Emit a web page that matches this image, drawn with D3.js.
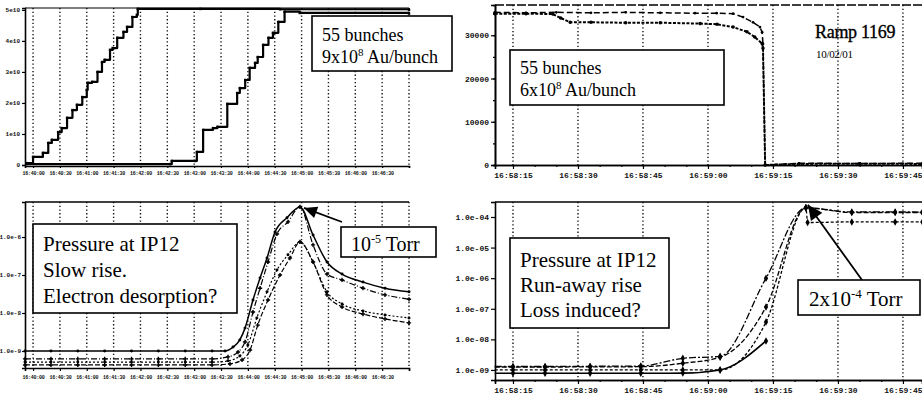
<!DOCTYPE html>
<html><head><meta charset="utf-8">
<script src="https://cdn.jsdelivr.net/npm/d3@7"></script>
<style>
html,body{margin:0;padding:0;background:#fff;}
svg{display:block;}
</style></head><body>
<svg id="fig" width="922" height="401"></svg>
<script>
// ---------------- data ----------------
// left column: time axis in seconds after the first grid line
const gridSecondsLeft = [0,30,60,90,120,150,180,210,240,270,300,330,360,390,420];
const timeLabelsLeft = ["16:40:00","16:40:30","16:41:00","16:41:30","16:42:00","16:42:30","16:43:00",
                        "16:43:30","16:44:00","16:44:30","16:45:00","16:45:30","16:46:00","16:46:30"];
const intensityTicksLeft = [0,1,2,3,4,5];
const intensityLabelsLeft = ["0","1e10","2e10","3e10","4e10","5e10"];

// injection staircase, ring 1 (ions, units of 1e10)
const fillTimeRing1 = [-7,0,11,17,21,28,32,38,44,49,55,60,61,66,72,77,80,86,89,94,101,105,111,116,117,187,276,420];
const fillRing1 = [0.06,0.26,0.39,0.71,0.81,1.06,1.19,1.52,1.77,1.94,2.19,2.42,2.65,2.68,3.0,3.32,3.39,3.71,3.77,4.1,4.29,4.45,4.77,4.84,5.03,5.03,5.02,5.0];
// injection staircase, ring 2
const fillTimeRing2 = [-7,153,155,181,183,190,201,206,217,228,231,237,242,248,251,257,263,268,274,281,298,420];
const fillRing2 = [0.03,0.03,0.13,0.13,0.42,1.13,1.19,1.23,1.97,2.32,2.48,2.74,3.13,3.29,3.48,3.87,4.1,4.26,4.61,4.94,4.9,4.88];

// pressure at IP12 during the fill (Torr)
const pressureTicksLeft = [1e-9,1e-8,1e-7,1e-6];
const pressureLabelsLeft = ["1.0e-9","1.0e-8","1.0e-7","1.0e-6"];
const slowTime1 = [-9,20,50,80,110,140,170,200,214.5,223.4,231,236.8,245.7,253.6,261.4,270.3,283.7,298.2,312.8,328.4,345.2,368.6,393.2,420];
const slowP1 = [1.0e-9,1.0e-9,1.0e-9,1.0e-9,1.0e-9,1.0e-9,1.0e-9,1.0e-9,1.0e-9,1.27e-9,1.95e-9,4.0e-9,2.2e-8,8.3e-8,2.8e-7,1.35e-6,3.2e-6,6.2e-6,1.13e-6,2.2e-7,1.06e-7,6.5e-8,4.5e-8,3.6e-8];
const slowTime2 = [-9,20,50,80,110,140,170,200,217.8,229,236.8,245.7,253.6,262.5,272.5,284.8,298.2,312.8,328.4,345.2,368.6,393.2,420];
const slowP2 = [6.2e-10,6.2e-10,6.2e-10,6.2e-10,6.2e-10,6.2e-10,6.2e-10,6.2e-10,7.0e-10,9.4e-10,1.73e-9,1.06e-8,4.5e-8,2.2e-7,1.2e-6,2.5e-6,6.2e-6,6.2e-7,1.06e-7,7.4e-8,4.5e-8,3.0e-8,2.3e-8];
const slowTime3 = [-9,20,50,80,110,140,170,200,217.8,231,240,250,261.4,272.5,284.8,298.2,312.8,328.4,345.2,368.6,393.2,420];
const slowP3 = [5.1e-10,5.1e-10,5.1e-10,5.1e-10,5.1e-10,5.1e-10,5.1e-10,5.1e-10,5.5e-10,7.4e-10,1.44e-9,7.4e-9,3.6e-8,1.35e-7,3.4e-7,7.4e-7,2.2e-7,3.6e-8,1.73e-8,1.13e-8,8.9e-9,7.4e-9];
const slowTime4 = [-9,20,50,80,110,140,170,200,220,233.5,242.4,251,262.5,275.9,287,298.2,312.8,328.4,345.2,368.6,393.2,420];
const slowP4 = [4.3e-10,4.3e-10,4.3e-10,4.3e-10,4.3e-10,4.3e-10,4.3e-10,4.3e-10,4.6e-10,5.8e-10,1.06e-9,4.8e-9,2.2e-8,1.0e-7,2.8e-7,7.4e-7,2.2e-7,3.0e-8,1.44e-8,9.4e-9,7.0e-9,5.5e-9];

// right column: ramp 1169, seconds after 16:58:15
const rampTickLabels = ["16:58:15","16:58:30","16:58:45","16:59:00","16:59:15","16:59:30","16:59:45"];
const intensityTicksRight = [0,10000,20000,30000];
const intensityLabelsRight = ["0","10000","20000","30000"];
const beamTimeA = [-4.2,3,10,18,26,34,42,47,50.8,53.1,55.4,57,57.5,57.7,58.2,66,80,94.5];
const beamA = [35300,35200,35300,35200,35300,35200,35100,35100,35000,34200,33000,31900,30700,28000,0,400,350,400];
const beamTimeB = [-4.2,3,9.2,11,13.2,18,26,34,43.2,47.1,50.8,54,55.8,57.5,57.7,58.2,66,80,94.5];
const beamB = [35000,35000,34900,34000,33000,33000,32900,32900,32700,32550,31900,30800,29600,28100,27000,0,250,300,250];

const pressureTicksRight = [1e-9,1e-8,1e-7,1e-6,1e-5,1e-4];
const pressureLabelsRight = ["1.0e-09","1.0e-08","1.0e-07","1.0e-06","1.0e-05","1.0e-04"];
const rampTimeA = [-4.2,0,7.4,17.8,29.5,39.2,47.8,58.4,67.6,78.2,88.2,94.5];
const rampPA = [1.3e-9,1.3e-9,1.3e-9,1.32e-9,1.35e-9,2.4e-9,2.8e-9,1.0e-6,2.0e-4,1.46e-4,1.46e-4,1.45e-4];
const rampTimeB = [-4.2,0,7.4,17.8,29.5,39.2,47.8,58.4,67.6,78.2,88.2,94.5];
const rampPB = [1.25e-9,1.25e-9,1.25e-9,1.26e-9,1.28e-9,1.66e-9,2.6e-9,1.15e-7,2.0e-4,1.4e-4,1.4e-4,1.4e-4];
const rampTimeC = [-4.2,0,7.4,17.8,29.5,39.2,47.8,58.4,67.6,68,78.2,88.2,94.5];
const rampPC = [1.0e-9,1.0e-9,1.0e-9,1.0e-9,1.0e-9,1.0e-9,1.0e-9,3.7e-8,2.0e-4,6.6e-5,6.9e-5,6.9e-5,6.9e-5];
const rampTimeD = [-4.2,0,7.4,17.8,29.5,39.2,47.8,58.4];
const rampPD = [7.8e-10,7.8e-10,7.8e-10,7.8e-10,7.8e-10,7.9e-10,1.0e-9,8.9e-9];

// ---------------- drawing ----------------
const SERIF = "Liberation Serif";
const MONO = "Liberation Mono";
const svg = d3.select("#fig");
svg.append("rect").attr("width",922).attr("height",401).attr("fill","#fff");

const parseClock = d3.timeParse("%H:%M:%S");
const rampStart = parseClock("16:58:15");
const sec = s => new Date(rampStart.getTime() + s*1000);

function plotLine(g, times, vals, xf, yf, o) {
  const data = times.map((t,i)=>[t, vals[i]]);
  const line = d3.line().x(d=>xf(d[0])).y(d=>yf(d[1])).curve(o.curve || d3.curveLinear);
  g.append("path").datum(data).attr("d", line).attr("fill","none")
    .attr("stroke","#000").attr("stroke-width", o.width || 1.3)
    .attr("stroke-dasharray", o.dash || null).attr("stroke-linejoin","round");
  if (o.marker) {
    g.selectAll(null).data(data.filter(o.markerFilter || (()=>true))).join("path")
      .attr("transform", d=>`translate(${xf(d[0])},${yf(d[1])})`)
      .attr("d", d3.symbol(o.marker, o.msize || 12)()).attr("fill","#000");
  }
}
function grid(g, xs, xf, y0, y1) {
  g.selectAll(null).data(xs).join("line")
    .attr("x1", d=>xf(d)).attr("x2", d=>xf(d)).attr("y1", y0).attr("y2", y1)
    .attr("stroke","#111").attr("stroke-width",1.4).attr("stroke-dasharray","1.3,2.4");
}
function styleAxis(sel, fs, spacing) {
  sel.attr("font-family", null).attr("font-size", null);
  sel.select(".domain").attr("stroke","#000").attr("stroke-width",1.6);
  sel.selectAll(".tick line").attr("stroke","#000").attr("stroke-width",1.2);
  sel.selectAll(".tick text").style("font-family", MONO).style("font-weight","bold")
    .style("font-size", fs).attr("fill","#111");
  if (spacing) sel.selectAll(".tick text").style("letter-spacing", spacing);
}
function arrow(g, x1, y1, x2, y2, len, half) {
  g.append("line").attr("x1",x1).attr("y1",y1).attr("x2",x2).attr("y2",y2)
    .attr("stroke","#000").attr("stroke-width",1.8);
  const a = Math.atan2(y2-y1, x2-x1), c = Math.cos(a), s = Math.sin(a);
  const bx = x2 - len*c, by = y2 - len*s;
  g.append("path").attr("d", `M${x2},${y2}L${bx - half*s},${by + half*c}L${bx + half*s},${by - half*c}Z`).attr("fill","#000");
}
function noteBox(g, x, y, w, h) {
  g.append("rect").attr("x",x).attr("y",y).attr("width",w).attr("height",h)
    .attr("fill","#fff").attr("stroke","#000").attr("stroke-width",1.6);
}
function noteText(g, x, y, size, parts) {
  const t = g.append("text").style("font-family", SERIF).attr("fill","#000")
    .attr("x",x).attr("y",y).attr("font-size", size);
  parts.forEach(p => {
    if (typeof p === "string") t.append("tspan").style("font-family", SERIF).text(p);
    else t.append("tspan").style("font-family", SERIF).attr("font-size", p.size).attr("dy", p.dy).text(p.text);
  });
  return t;
}

// ===== top-left: injection into both rings =====
{
  const g = svg.append("g");
  const x = d3.scaleLinear().domain([-9, 420]).range([25, 409]);
  const y = d3.scaleLinear().domain([0, 5.06]).range([165, 8]);
  grid(g, gridSecondsLeft, x, 8, 165);
  g.append("line").attr("x1",25).attr("x2",409).attr("y1",8).attr("y2",8).attr("stroke","#000").attr("stroke-width",1.2);
  plotLine(g, fillTimeRing2, fillRing2, x, y, {curve:d3.curveStepAfter, width:2.2, marker:d3.symbolSquare, msize:6});
  plotLine(g, fillTimeRing1, fillRing1, x, y, {curve:d3.curveStepAfter, width:2.2, marker:d3.symbolSquare, msize:6});
  g.append("g").attr("transform","translate(25,0)")
    .call(d3.axisLeft(y).tickValues(intensityTicksLeft).tickFormat((d,i)=>intensityLabelsLeft[i]).tickSize(3).tickPadding(2))
    .call(s=>styleAxis(s, "6px"));
  g.append("g").attr("transform","translate(0,166)")
    .call(d3.axisBottom(x).tickValues(gridSecondsLeft).tickFormat((d,i)=>timeLabelsLeft[i] || "").tickSize(2).tickPadding(3))
    .call(s=>styleAxis(s, "5px", "-0.25px"));
  noteBox(g, 312, 16, 140, 55);
  noteText(g, 322, 41, 18, ["55 bunches"]);
  noteText(g, 322, 63, 18, ["9x10", {text:"8", size:11, dy:-7}, {text:" Au/bunch", size:18, dy:7}]);
}

// ===== bottom-left: pressure at IP12 during the fill =====
{
  const g = svg.append("g");
  const x = d3.scaleLinear().domain([-9, 420]).range([25, 409]);
  const y = d3.scaleLog().domain([3.57e-10, 8.34e-6]).range([368, 202]);
  grid(g, gridSecondsLeft, x, 202, 368);
  g.append("line").attr("x1",25).attr("x2",409).attr("y1",202).attr("y2",202).attr("stroke","#000").attr("stroke-width",1.4);
  const c = d3.curveMonotoneX;
  plotLine(g, slowTime4, slowP4, x, y, {curve:c, width:1.2, dash:"5,2", marker:d3.symbolCross, msize:10});
  plotLine(g, slowTime3, slowP3, x, y, {curve:c, width:1.2, dash:"2,2", marker:d3.symbolCircle, msize:7});
  plotLine(g, slowTime2, slowP2, x, y, {curve:c, width:1.2, dash:"6,2,1,2", marker:d3.symbolCross, msize:10});
  plotLine(g, slowTime1, slowP1, x, y, {curve:c, width:1.5, marker:d3.symbolCircle, msize:7});
  g.append("g").attr("transform","translate(25,0)")
    .call(d3.axisLeft(y).tickValues(pressureTicksLeft).tickFormat((d,i)=>pressureLabelsLeft[i]).tickSize(3).tickPadding(1))
    .call(s=>styleAxis(s, "6px"));
  g.append("g").attr("transform","translate(0,368)")
    .call(d3.axisBottom(x).tickValues(gridSecondsLeft).tickFormat((d,i)=>timeLabelsLeft[i] || "").tickSize(3).tickPadding(4))
    .call(s=>styleAxis(s, "5px", "-0.25px"));
  noteBox(g, 33, 224, 204, 89);
  noteText(g, 43, 251, 21, ["Pressure at IP12"]);
  noteText(g, 43, 277, 21, ["Slow rise."]);
  noteText(g, 43, 303, 21, ["Electron desorption?"]);
  // arrow to the pressure peak
  const px = x(slowTime1[17]) + 4, py = y(slowP1[17]) + 1;
  arrow(g, 342, 222, px, py, 13, 6);
  noteBox(g, 341, 227, 95, 30);
  noteText(g, 351, 251, 20, ["10", {text:"-5", size:12, dy:-8}, {text:" Torr", size:20, dy:8}]);
}

// ===== top-right: beam intensity during ramp 1169 =====
const xRamp = d3.scaleTime().domain([sec(-4.15), sec(94.4)]).range([495, 922]);
const xr = s => xRamp(sec(s));
const rampTicks = rampTickLabels.map(parseClock);
{
  const g = svg.append("g");
  const y = d3.scaleLinear().domain([0, 37000]).range([165, 5]);
  grid(g, rampTicks, xRamp, 5, 165);
  g.append("line").attr("x1",495).attr("x2",922).attr("y1",5).attr("y2",5).attr("stroke","#000").attr("stroke-width",1.4).attr("stroke-dasharray","9,2");
  plotLine(g, beamTimeA, beamA, xr, y, {width:1.5, dash:"6,3", marker:d3.symbolCircle, msize:6});
  plotLine(g, beamTimeB, beamB, xr, y, {width:2, dash:"3,1.5", marker:d3.symbolCircle, msize:10});
  g.append("g").attr("transform","translate(495,0)")
    .call(d3.axisLeft(y).tickValues([0,5000,10000,15000,20000,25000,30000,35000]).tickFormat(()=>"").tickSize(2))
    .call(s=>styleAxis(s, "8px"));
  g.append("g").attr("transform","translate(495,0)")
    .call(d3.axisLeft(y).tickValues(intensityTicksRight).tickFormat((d,i)=>intensityLabelsRight[i]).tickSize(4).tickPadding(2))
    .call(s=>styleAxis(s, "8px"));
  g.append("g").attr("transform","translate(0,165)")
    .call(d3.axisBottom(xRamp).ticks(d3.timeSecond.every(5)).tickFormat(()=>"").tickSize(2))
    .call(s=>styleAxis(s, "8px"));
  g.append("g").attr("transform","translate(0,165)")
    .call(d3.axisBottom(xRamp).tickValues(rampTicks).tickFormat(d3.timeFormat("%H:%M:%S")).tickSize(4).tickPadding(3))
    .call(s=>styleAxis(s, "8px"));
  noteBox(g, 510, 50, 214, 55);
  noteText(g, 520, 74, 18, ["55 bunches"]);
  noteText(g, 520, 96, 18, ["6x10", {text:"8", size:11, dy:-7}, {text:" Au/bunch", size:18, dy:7}]);
  noteText(g, 815, 38, 18, ["Ramp 1169"]).attr("stroke","#000").attr("stroke-width",0.35).style("letter-spacing","-0.3px");
  noteText(g, 816, 58, 11, ["10/02/01"]).style("letter-spacing","-0.3px");
}

// ===== bottom-right: pressure at IP12 during ramp 1169 =====
{
  const g = svg.append("g");
  const y = d3.scaleLog().domain([4.7e-10, 3.09e-4]).range([380, 202]);
  grid(g, rampTicks, xRamp, 202, 380);
  g.append("line").attr("x1",495).attr("x2",922).attr("y1",202).attr("y2",202).attr("stroke","#000").attr("stroke-width",1.4);
  const c = d3.curveMonotoneX;
  const inner = d => d[0] > -4;
  plotLine(g, rampTimeD, rampPD, xr, y, {curve:c, width:1.6, marker:d3.symbolDiamond, msize:16, markerFilter:inner});
  plotLine(g, rampTimeC, rampPC, xr, y, {curve:c, width:1.3, dash:"3,2", marker:d3.symbolDiamond, msize:16, markerFilter:inner});
  plotLine(g, rampTimeB, rampPB, xr, y, {curve:c, width:1.3, dash:"5,2", marker:d3.symbolDiamond, msize:16, markerFilter:inner});
  plotLine(g, rampTimeA, rampPA, xr, y, {curve:c, width:1.3, dash:"7,2,2,2", marker:d3.symbolDiamond, msize:16, markerFilter:inner});
  g.append("g").attr("transform","translate(495,0)")
    .call(d3.axisLeft(y).tickValues(pressureTicksRight).tickFormat((d,i)=>pressureLabelsRight[i]).tickSize(4).tickPadding(2))
    .call(s=>styleAxis(s, "8px"));
  g.append("g").attr("transform","translate(0,380)")
    .call(d3.axisBottom(xRamp).ticks(d3.timeSecond.every(5)).tickFormat(()=>"").tickSize(2))
    .call(s=>styleAxis(s, "8px"));
  g.append("g").attr("transform","translate(0,380)")
    .call(d3.axisBottom(xRamp).tickValues(rampTicks).tickFormat(d3.timeFormat("%H:%M:%S")).tickSize(4).tickPadding(3))
    .call(s=>styleAxis(s, "8px"));
  noteBox(g, 510, 238, 159, 90);
  noteText(g, 520, 267, 21, ["Pressure at IP12"]);
  noteText(g, 520, 292, 21, ["Run-away rise"]);
  noteText(g, 520, 317, 21, ["Loss induced?"]);
  const px = xr(rampTimeA[8]) + 2, py = y(rampPA[8]) - 3;
  arrow(g, 862, 280, px, py, 15, 7);
  noteBox(g, 798, 280, 122, 35);
  noteText(g, 809, 306, 21, ["2x10", {text:"-4", size:13, dy:-8}, {text:" Torr", size:21, dy:8}]);
}
</script></body></html>
